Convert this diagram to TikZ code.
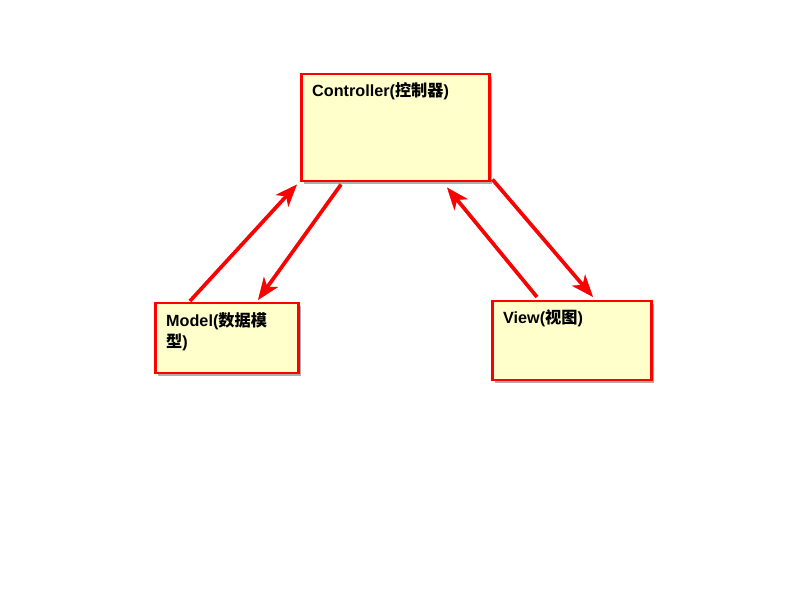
\documentclass[tikz,border=0pt]{standalone}
\usepackage{fontspec}
\setmainfont{Liberation Sans}
\newfontfamily\cjk{Noto Sans CJK SC}
\usetikzlibrary{calc,shadows,arrows.meta}
\definecolor{notefill}{RGB}{255,255,204}
\tikzset{
  x=1pt, y=1pt,
  notebox/.style={draw=red, line width=2.5pt, fill=notefill, rectangle, anchor=north west,
    inner sep=0pt, drop shadow={shadow xshift=3pt, shadow yshift=-3pt, opacity=0.45, fill=black!70}},
  notetext/.style={anchor=north west, inner sep=0pt, align=left,
    font=\fontsize{16.2}{20}\selectfont\bfseries},
  flow/.style={draw=red, line width=3.6pt, -{Stealth[length=22pt, width=17pt, inset=6pt]}},
  flowshadow/.style={draw=black, opacity=0.3, line width=3.6pt, -{Stealth[length=22pt, width=17pt, inset=6pt]}},
}
\begin{document}
\begin{tikzpicture}
\useasboundingbox (0,0) rectangle (800,600);
\fill[white] (0,0) rectangle (800,600);

% boxes
\node[notebox, minimum width=188pt, minimum height=107pt] (ctrl) at (300,527) {};
\node[notebox, minimum width=143pt, minimum height=70pt] (model) at (154,298) {};
\node[notebox, minimum width=159pt, minimum height=79pt] (view) at (491,300) {};

% captions
\node[notetext] (ctrltxt) at ($(ctrl.north west)+(12,-9)$) {Controller({\cjk 控制器})};
\node[notetext] (modeltxt) at ($(model.north west)+(12,-10)$) {Model({\cjk 数据模}\\[1pt]{\cjk 型})};
\node[notetext] (viewtxt) at ($(view.north west)+(12,-9)$) {View({\cjk 视图})};

% connector end points
\coordinate (m2c-a) at ($(model.north west)+(36,1)$);
\coordinate (m2c-b) at ($(ctrl.south west)+(-3,-2)$);
\coordinate (c2m-a) at ($(ctrl.south west)+(41,-2)$);
\coordinate (c2m-b) at ($(model.north west)+(104,2)$);
\coordinate (v2c-a) at ($(view.north west)+(46,3)$);
\coordinate (v2c-b) at ($(ctrl.south west)+(147,-5)$);
\coordinate (c2v-a) at ($(ctrl.south east)+(2,3)$);
\coordinate (c2v-b) at ($(view.north west)+(102,3)$);

% shadows of the connectors
\begin{scope}[shift={(2,-3)}]
\draw[flowshadow] (m2c-a) -- (m2c-b);
\draw[flowshadow] (c2m-a) -- (c2m-b);
\draw[flowshadow] (v2c-a) -- (v2c-b);
\draw[flowshadow] (c2v-a) -- (c2v-b);
\end{scope}

% connectors
\draw[flow] (m2c-a) -- (m2c-b);
\draw[flow] (c2m-a) -- (c2m-b);
\draw[flow] (v2c-a) -- (v2c-b);
\draw[flow] (c2v-a) -- (c2v-b);
\end{tikzpicture}
\end{document}
